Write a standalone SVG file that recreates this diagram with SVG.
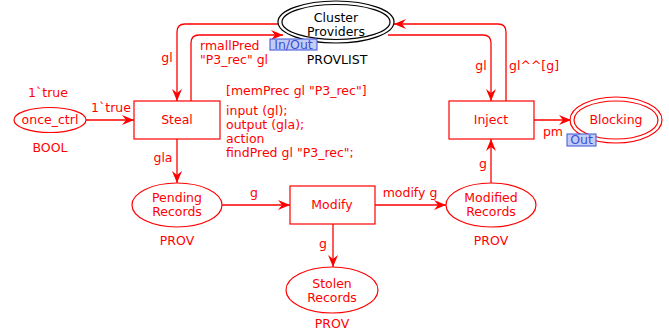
<svg xmlns="http://www.w3.org/2000/svg" width="669" height="336" viewBox="0 0 669 336">
<defs>
<marker id="ah" viewBox="0 0 12 10" refX="12" refY="5" markerWidth="12" markerHeight="10" markerUnits="userSpaceOnUse" orient="auto">
<path d="M0,0 L12,5 L0,10 L4,5 z" fill="#ff0000"/>
</marker>
<style>
text{font-family:"DejaVu Sans","Verdana",sans-serif;font-size:12.5px;fill:#ff0000}
.c{text-anchor:middle}
.k{fill:#000}
.node{fill:#fff;stroke:#ff0000;stroke-width:1.2}
.blk{fill:#fff;stroke:#000;stroke-width:1.2}
.arc{fill:none;stroke:#ff0000;stroke-width:1.3}
.port{fill:#c4ccf4;stroke:#3a50d8;stroke-width:1}
.pt{fill:#3a50d8}
</style>
</defs>
<rect width="669" height="336" fill="#fff"/>
<g id="connectors">
<path class="arc" d="M279,24 H185 Q177,24 177,32 V101" marker-end="url(#ah)"/>
<path class="arc" d="M191,101 V43 Q191,35 199,35 H283" marker-end="url(#ah)"/>
<path class="arc" d="M506,101 V32 Q506,24 498,24 H394" marker-end="url(#ah)"/>
<path class="arc" d="M388,35 H483 Q491,35 491,43 V101" marker-end="url(#ah)"/>
<path class="arc" d="M86,120 H134" marker-end="url(#ah)"/>
<path class="arc" d="M177,139 V183" marker-end="url(#ah)"/>
<path class="arc" d="M222,205 H290" marker-end="url(#ah)"/>
<path class="arc" d="M375,205 H446" marker-end="url(#ah)"/>
<path class="arc" d="M333,224 V267" marker-end="url(#ah)"/>
<path class="arc" d="M491,183 V139" marker-end="url(#ah)"/>
<path class="arc" d="M534,120 H571" marker-end="url(#ah)"/>
<text x="167" y="62" class="c">gl</text>
<text x="200" y="50">rmallPred</text>
<text x="200" y="64">"P3_rec" gl</text>
<text x="481" y="70" class="c">gl</text>
<text x="509" y="70">gl^^[g]</text>
<text x="111" y="112" class="c">1`true</text>
<text x="163" y="162" class="c">gla</text>
<text x="254" y="197" class="c">g</text>
<text x="410" y="197" class="c">modify g</text>
<text x="323" y="248" class="c">g</text>
<text x="483" y="168" class="c">g</text>
<text x="553" y="136" class="c">pm</text>
</g>
<g id="cluster">
<ellipse class="blk" cx="336" cy="22" rx="58" ry="21"/>
<ellipse class="blk" cx="336" cy="22" rx="54" ry="17.5"/>
<text x="336" y="22" class="c k">Cluster</text>
<text x="336" y="35.5" class="c k">Providers</text>
<rect class="port" x="270" y="39" width="47" height="11"/>
<text x="293.5" y="48.5" class="c pt">In/Out</text>
<text x="337" y="64" class="c k">PROVLIST</text>
</g>
<g id="once_ctrl">
<ellipse class="node" cx="50" cy="120" rx="36" ry="12.5"/>
<text x="50" y="124" class="c">once_ctrl</text>
<text x="48" y="97" class="c">1`true</text>
<text x="50" y="152" class="c">BOOL</text>
</g>
<g id="steal">
<rect class="node" x="134" y="101" width="86" height="38"/>
<text x="177" y="124" class="c">Steal</text>
<text x="226" y="95">[memPrec gl "P3_rec"]</text>
<text x="226" y="115">input (gl);</text>
<text x="226" y="129">output (gla);</text>
<text x="226" y="143">action</text>
<text x="226" y="157">findPred gl "P3_rec";</text>
</g>
<g id="inject">
<rect class="node" x="449" y="101" width="85" height="38"/>
<text x="491" y="124" class="c">Inject</text>
</g>
<g id="blocking">
<ellipse class="node" cx="616" cy="120" rx="46" ry="23"/>
<ellipse class="node" cx="616" cy="120" rx="42" ry="19"/>
<text x="616" y="124" class="c">Blocking</text>
<rect class="port" x="567" y="134" width="29" height="12"/>
<text x="581.5" y="144" class="c pt">Out</text>
</g>
<g id="pending">
<ellipse class="node" cx="177" cy="205" rx="45" ry="22"/>
<text x="177" y="202" class="c">Pending</text>
<text x="177" y="216" class="c">Records</text>
<text x="177" y="245" class="c">PROV</text>
</g>
<g id="modify">
<rect class="node" x="290" y="186" width="85" height="38"/>
<text x="332" y="209" class="c">Modify</text>
</g>
<g id="modified">
<ellipse class="node" cx="491" cy="205" rx="45" ry="22"/>
<text x="491" y="202" class="c">Modified</text>
<text x="491" y="216" class="c">Records</text>
<text x="491" y="245" class="c">PROV</text>
</g>
<g id="stolen">
<ellipse class="node" cx="332" cy="290" rx="46" ry="23"/>
<text x="332" y="288" class="c">Stolen</text>
<text x="332" y="302" class="c">Records</text>
<text x="332" y="328" class="c">PROV</text>
</g>
</svg>
